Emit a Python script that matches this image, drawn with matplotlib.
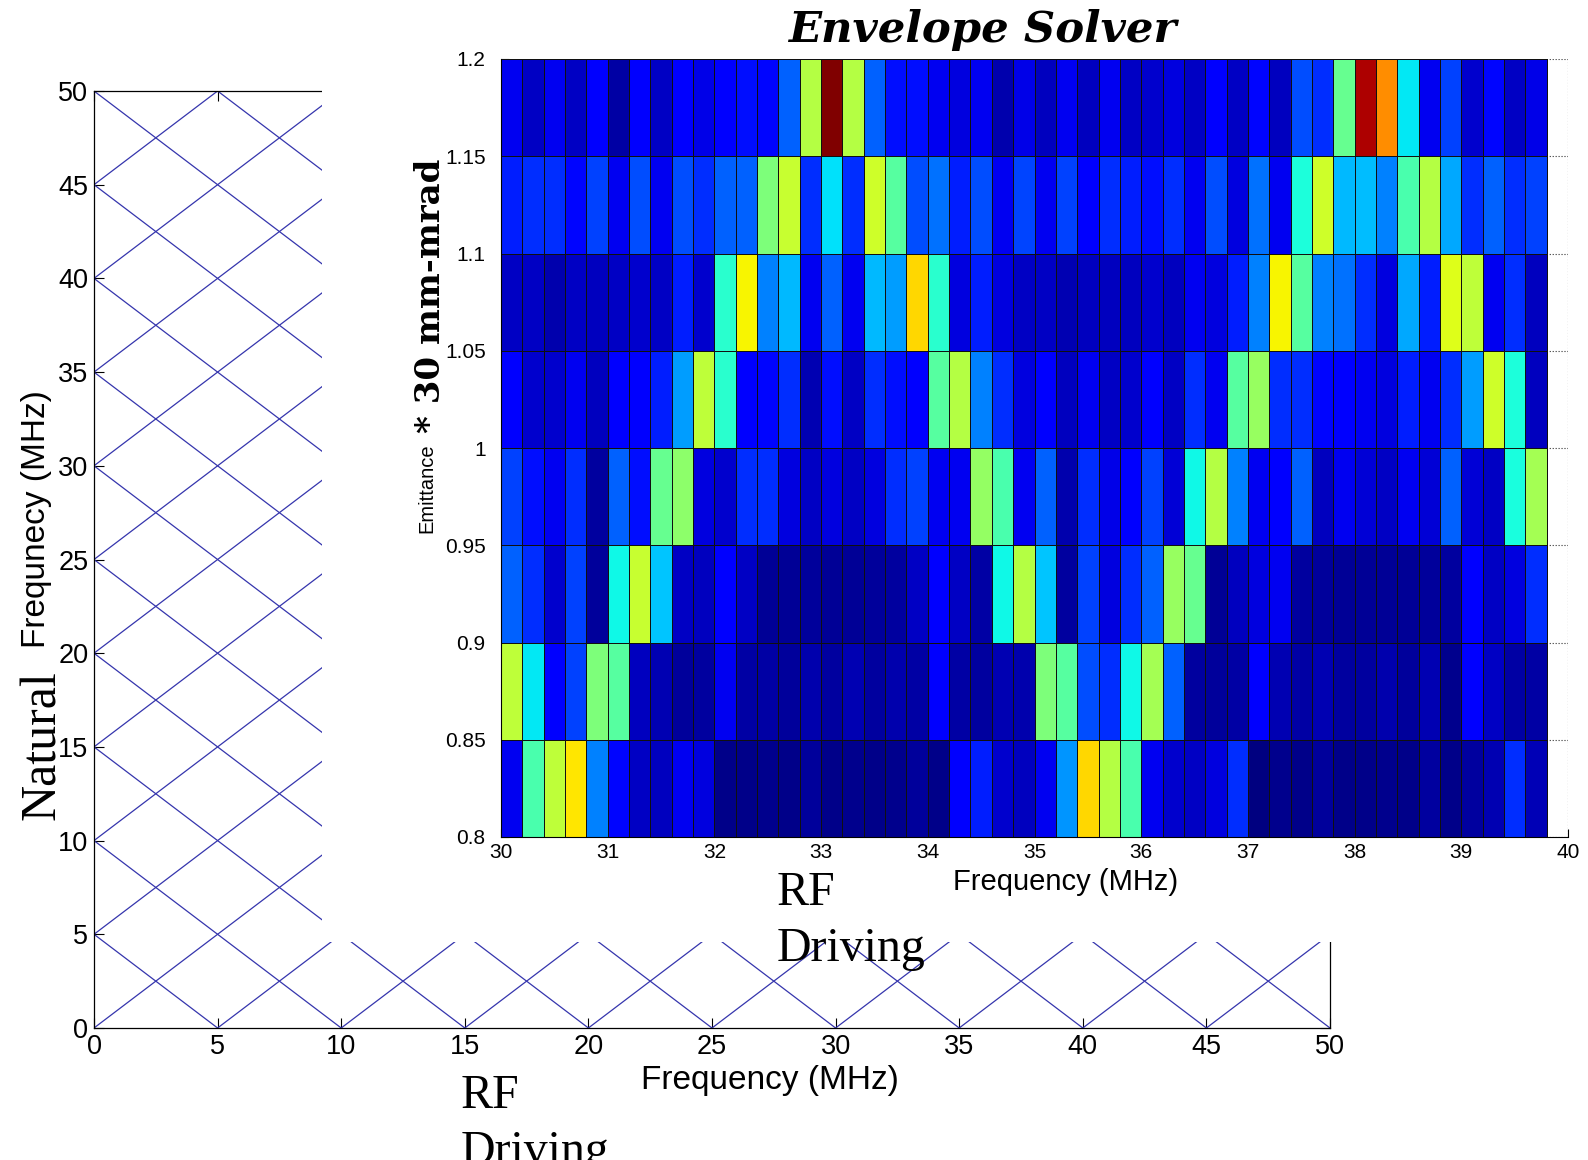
import numpy as np
import matplotlib
matplotlib.use("Agg")
import matplotlib.pyplot as plt
from matplotlib.patches import Rectangle

plt.rcParams["font.family"] = ["Liberation Sans", "DejaVu Sans"]

# ── Data ──────────────────────────────────────────────────────────────────────
# RF sweep grid (cell edges) and emittance bands of the envelope solver map
freq_mhz = np.round(np.arange(30.0, 40.0, 0.2), 1)      # 50 edges -> 49 cells
emittance = [0.8, 0.85, 0.9, 0.95, 1.0, 1.05, 1.1, 1.15, 1.2]
emit_labels = ["0.8", "0.85", "0.9", "0.95", "1", "1.05", "1.1", "1.15", "1.2"]

# normalised envelope growth, one list per emittance band (bottom -> top)
row_080 = [0.10, 0.44, 0.58, 0.665, 0.25, 0.13, 0.06, 0.055, 0.10, 0.085,
           0.01, 0.01, 0.015, 0.01, 0.025, 0.01, 0.015, 0.01, 0.015, 0.025,
           0.01, 0.11, 0.155, 0.07, 0.055, 0.10, 0.27, 0.68, 0.57, 0.44,
           0.10, 0.07, 0.06, 0.085, 0.17, 0.0, 0.015, 0.01, 0.025, 0.01,
           0.01, 0.015, 0.01, 0.03, 0.01, 0.03, 0.045, 0.17, 0.05]
row_085 = [0.58, 0.355, 0.12, 0.19, 0.50, 0.455, 0.055, 0.045, 0.025, 0.03,
           0.10, 0.035, 0.035, 0.025, 0.04, 0.03, 0.045, 0.03, 0.04, 0.035,
           0.11, 0.035, 0.03, 0.045, 0.04, 0.50, 0.455, 0.20, 0.17, 0.37,
           0.55, 0.22, 0.03, 0.025, 0.035, 0.11, 0.045, 0.035, 0.045, 0.03,
           0.03, 0.04, 0.025, 0.045, 0.015, 0.11, 0.06, 0.035, 0.035]
row_090 = [0.22, 0.17, 0.07, 0.19, 0.025, 0.37, 0.59, 0.32, 0.06, 0.055,
           0.11, 0.06, 0.02, 0.02, 0.025, 0.02, 0.02, 0.025, 0.03, 0.06,
           0.11, 0.06, 0.035, 0.37, 0.57, 0.32, 0.03, 0.19, 0.085, 0.17,
           0.22, 0.535, 0.475, 0.02, 0.055, 0.085, 0.10, 0.03, 0.025, 0.02,
           0.02, 0.02, 0.02, 0.025, 0.03, 0.11, 0.06, 0.085, 0.17]
row_095 = [0.19, 0.14, 0.10, 0.17, 0.03, 0.22, 0.14, 0.475, 0.52, 0.085,
           0.07, 0.17, 0.17, 0.085, 0.06, 0.085, 0.06, 0.085, 0.17, 0.19,
           0.10, 0.10, 0.53, 0.44, 0.10, 0.22, 0.04, 0.17, 0.09, 0.12,
           0.19, 0.075, 0.37, 0.57, 0.25, 0.10, 0.12, 0.22, 0.055, 0.10,
           0.075, 0.06, 0.10, 0.075, 0.22, 0.075, 0.06, 0.38, 0.55]
row_100 = [0.11, 0.07, 0.07, 0.10, 0.055, 0.12, 0.12, 0.155, 0.28, 0.58,
           0.40, 0.11, 0.13, 0.17, 0.045, 0.14, 0.06, 0.17, 0.14, 0.11,
           0.455, 0.57, 0.25, 0.17, 0.085, 0.12, 0.055, 0.10, 0.06, 0.07,
           0.12, 0.06, 0.17, 0.10, 0.455, 0.535, 0.17, 0.17, 0.13, 0.12,
           0.10, 0.085, 0.155, 0.10, 0.17, 0.28, 0.60, 0.385, 0.055]
row_105 = [0.06, 0.06, 0.04, 0.06, 0.055, 0.06, 0.07, 0.06, 0.155, 0.07,
           0.40, 0.65, 0.25, 0.305, 0.10, 0.22, 0.10, 0.305, 0.28, 0.68,
           0.40, 0.085, 0.155, 0.085, 0.06, 0.06, 0.045, 0.055, 0.055, 0.055,
           0.07, 0.055, 0.10, 0.085, 0.155, 0.25, 0.65, 0.455, 0.25, 0.235,
           0.17, 0.085, 0.29, 0.155, 0.62, 0.58, 0.10, 0.17, 0.055]
row_110 = [0.155, 0.17, 0.17, 0.13, 0.19, 0.10, 0.20, 0.10, 0.20, 0.17,
           0.22, 0.22, 0.50, 0.59, 0.17, 0.345, 0.17, 0.60, 0.455, 0.20,
           0.235, 0.155, 0.20, 0.10, 0.195, 0.10, 0.19, 0.12, 0.17, 0.155,
           0.14, 0.17, 0.10, 0.20, 0.085, 0.235, 0.10, 0.385, 0.60, 0.305,
           0.31, 0.25, 0.44, 0.57, 0.29, 0.17, 0.22, 0.17, 0.19]
row_115 = [0.10, 0.06, 0.10, 0.06, 0.12, 0.035, 0.12, 0.06, 0.12, 0.09,
           0.12, 0.14, 0.13, 0.22, 0.57, 1.00, 0.57, 0.22, 0.14, 0.14,
           0.10, 0.085, 0.10, 0.04, 0.09, 0.055, 0.10, 0.055, 0.10, 0.06,
           0.07, 0.085, 0.06, 0.12, 0.06, 0.13, 0.055, 0.20, 0.17, 0.475,
           0.96, 0.76, 0.355, 0.10, 0.19, 0.07, 0.13, 0.06, 0.09]

growth = np.array([row_080, row_085, row_090, row_095,
                   row_100, row_105, row_110, row_115])

# resonance lines in the (RF driving, natural) frequency plane
rise_offsets = [-50, -45, -40, -35, -30, -25, -20, -15, -10, -5, 0,
                5, 10, 15, 20, 25, 30, 35, 40, 45, 50]           # f_nat = f_rf + c
fall_offsets = [0, 5, 10, 15, 20, 25, 30, 35, 40, 45, 50,
                55, 60, 65, 70, 75, 80, 85, 90, 95, 100]         # f_nat = c - f_rf
bg_ticks = [0, 5, 10, 15, 20, 25, 30, 35, 40, 45, 50]
rf_ticks = [30, 31, 32, 33, 34, 35, 36, 37, 38, 39, 40]

# ── Figure ────────────────────────────────────────────────────────────────────
W, H = 1588, 1160
fig = plt.figure(figsize=(W / 100, H / 100), dpi=100)


def px(x, y):
    """pixel position (from top-left) -> figure fraction"""
    return x / W, 1 - y / H


# background resonance diagram
ax_bg = fig.add_axes([94 / W, 1 - 1028 / H, 1236 / W, 937 / H])
for c in rise_offsets:
    ax_bg.plot([0, 50], [c, 50 + c], color="#3535ad", lw=0.9)
for c in fall_offsets:
    ax_bg.plot([0, 50], [c, c - 50], color="#3535ad", lw=0.9)
ax_bg.set_xlim(0, 50)
ax_bg.set_ylim(0, 50)
ax_bg.set_xticks(bg_ticks)
ax_bg.set_yticks(bg_ticks)
ax_bg.tick_params(direction="in", length=7, width=0.8, top=True, right=True,
                  labelsize=19.5, pad=4)
for s in ax_bg.spines.values():
    s.set_linewidth(0.9)
# pasted-over region (the inset sits on a white sheet)
ax_bg.add_patch(Rectangle((9.22, 4.59), 60, 60, facecolor="white",
                          edgecolor="none", zorder=5, clip_on=False))

# envelope solver map
ax_hm = fig.add_axes([501 / W, 1 - 837 / H, 1067 / W, 778 / H])
ax_hm.pcolormesh(freq_mhz, emittance, growth, cmap="jet", vmin=0, vmax=1,
                 edgecolors="#101010", linewidth=0.7)
ax_hm.set_xlim(30, 40)
ax_hm.set_ylim(0.8, 1.2)
ax_hm.set_xticks(rf_ticks)
ax_hm.set_yticks(emittance)
ax_hm.set_yticklabels(emit_labels)
ax_hm.set_axisbelow(True)
ax_hm.grid(True, linestyle=":", color="#333333", linewidth=0.8)
ax_hm.spines["top"].set_visible(False)
ax_hm.spines["right"].set_visible(False)
ax_hm.tick_params(direction="in", length=6, labelsize=15)
ax_hm.tick_params(axis="y", pad=11)
ax_hm.tick_params(axis="x", pad=4)

# ── Text ──────────────────────────────────────────────────────────────────────
serif = ["DejaVu Serif"]
times = ["Liberation Serif", "DejaVu Serif"]
fig.text(*px(982, 30), "Envelope Solver", family=serif, weight="bold",
         style="italic", fontsize=31.2, ha="center", va="center")
fig.text(*px(1066, 882), "Frequency (MHz)", fontsize=21, ha="center", va="center")
fig.text(*px(770, 1080), "Frequency (MHz)", fontsize=24, ha="center", va="center")
fig.text(*px(37, 519), "Frequnecy (MHz)", fontsize=24, rotation=90,
         ha="center", va="center")
fig.text(*px(43, 745), "Natural", family=times, fontsize=36, rotation=90,
         ha="center", va="center")
fig.text(*px(427, 488), "Emittance", fontsize=14.5, rotation=90,
         ha="center", va="center")
fig.text(*px(431, 296), "* 30 mm-mrad", family=serif, weight="bold",
         fontsize=24.5, rotation=90, ha="center", va="center")
for x0, y0 in [(777, 905), (461, 1108)]:
    fig.text(*px(x0, y0), "RF", family=times, fontsize=34.5, va="baseline")
    fig.text(*px(x0, y0 + 56), "Driving", family=times, fontsize=34.5,
             va="baseline")

fig.savefig("out.png", dpi=100)
